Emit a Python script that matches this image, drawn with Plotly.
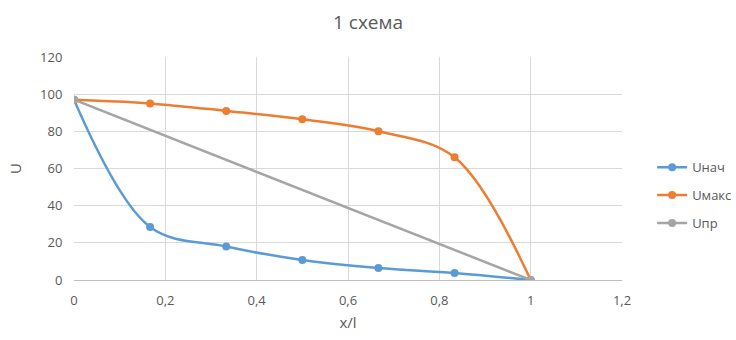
import plotly.graph_objects as go

x_pts = [0, 1/6, 2/6, 3/6, 4/6, 5/6, 1]
u_nach = [97, 28.5, 18, 10.8, 6.5, 3.8, 0]
u_maks = [97, 95, 91, 86.5, 80, 66, 0]
x_pr = [0, 1]
u_pr = [97, 0]

x_ticks = [0, 0.2, 0.4, 0.6, 0.8, 1, 1.2]
x_tick_labels = ["0", "0,2", "0,4", "0,6", "0,8", "1", "1,2"]
y_ticks = [0, 20, 40, 60, 80, 100, 120]

FONT = "Open Sans"
TXT = "#595959"
CLEAR = "rgba(0,0,0,0)"

fig = go.Figure()
fig.add_trace(go.Scatter(x=x_pts, y=u_nach, name="Uнач", mode="lines+markers", legendgroup="a",
                         line=dict(color="#5B9BD5", width=2.5, shape="spline", smoothing=1),
                         marker=dict(size=8, color="#5B9BD5")))
fig.add_trace(go.Scatter(x=x_pts, y=u_maks, name="Uмакс", mode="lines+markers", legendgroup="b",
                         line=dict(color="#ED7D31", width=2.5, shape="spline", smoothing=1),
                         marker=dict(size=8, color="#ED7D31")))
fig.add_trace(go.Scatter(x=x_pr, y=u_pr, name="Uпр", mode="lines+markers", legendgroup="c",
                         line=dict(color="#A5A5A5", width=2.5),
                         marker=dict(size=8, color="#A5A5A5")))

fig.update_layout(
    width=736, height=340,
    margin=dict(l=74, r=114, t=57, b=60, autoexpand=False),
    paper_bgcolor="white", plot_bgcolor="white",
    font=dict(family=FONT, color=TXT, size=13),
    title=dict(text="1 схема", x=0.5, xanchor="center", y=0.935, yanchor="middle",
               font=dict(size=19, color=TXT, family=FONT)),
    legend=dict(x=1.055, y=0.38, xanchor="left", yanchor="middle",
                font=dict(size=13, color=TXT), tracegroupgap=8, itemwidth=30),
    showlegend=True,
)
fig.update_xaxes(range=[0, 1.2], tickvals=x_ticks, ticktext=x_tick_labels,
                 showgrid=True, gridcolor="#d9d9d9", gridwidth=1,
                 zeroline=False, showline=True, linecolor="#bfbfbf", linewidth=1,
                 ticks="outside", ticklen=8, tickcolor=CLEAR,
                 title=dict(text="x/l", font=dict(size=15, color=TXT), standoff=9))
fig.update_yaxes(range=[0, 120], tickvals=y_ticks,
                 showgrid=True, gridcolor="#d9d9d9", gridwidth=1,
                 zeroline=False, showline=False,
                 ticks="outside", ticklen=8, tickcolor=CLEAR,
                 title=dict(text="U", font=dict(size=15, color=TXT), standoff=14))

fig.write_html("out.html")
